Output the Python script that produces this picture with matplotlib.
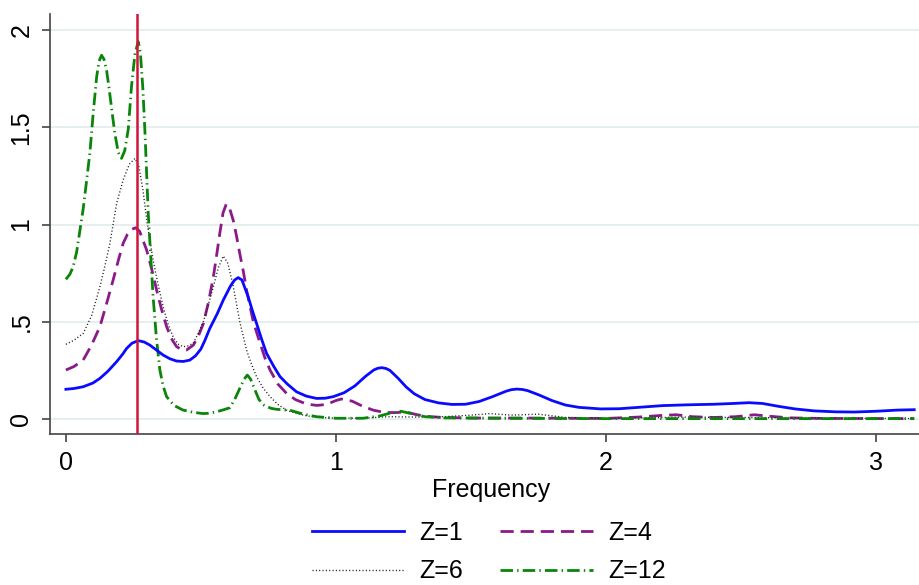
import matplotlib
matplotlib.use("Agg")
import matplotlib.pyplot as plt

# spectral density, one curve per Z
freq_z1 = [0, 0.03, 0.064, 0.1, 0.126, 0.155, 0.188, 0.21, 0.225, 0.245, 0.268, 0.29,
           0.311, 0.335, 0.36, 0.385, 0.41, 0.435, 0.459, 0.48, 0.5, 0.515, 0.533, 0.56,
           0.583, 0.61, 0.625, 0.638, 0.652, 0.675, 0.69, 0.706, 0.725, 0.743, 0.77,
           0.793, 0.82, 0.854, 0.89, 0.928, 0.96, 0.99, 1.03, 1.07, 1.11, 1.14, 1.155,
           1.17, 1.185, 1.2, 1.23, 1.26, 1.29, 1.33, 1.38, 1.43, 1.48, 1.53, 1.58, 1.63,
           1.65, 1.67, 1.69, 1.71, 1.75, 1.8, 1.85, 1.9, 1.98, 2.05, 2.12, 2.21, 2.3,
           2.4, 2.47, 2.53, 2.58, 2.64, 2.7, 2.77, 2.85, 2.92, 3.0, 3.08, 3.1416]
dens_z1 = [0.153, 0.157, 0.166, 0.185, 0.209, 0.245, 0.295, 0.333, 0.363, 0.39, 0.403,
           0.396, 0.38, 0.355, 0.329, 0.31, 0.298, 0.296, 0.303, 0.325, 0.36, 0.405,
           0.466, 0.54, 0.612, 0.685, 0.715, 0.727, 0.715, 0.629, 0.56, 0.492, 0.41,
           0.338, 0.27, 0.218, 0.18, 0.14, 0.118, 0.106, 0.107, 0.115, 0.135, 0.17,
           0.22, 0.252, 0.261, 0.264, 0.26, 0.25, 0.21, 0.165, 0.13, 0.1, 0.083, 0.075,
           0.076, 0.09, 0.115, 0.143, 0.151, 0.154, 0.152, 0.146, 0.125, 0.095, 0.072,
           0.06, 0.052, 0.053, 0.06, 0.069, 0.073, 0.076, 0.08, 0.084, 0.08, 0.065,
           0.052, 0.042, 0.037, 0.036, 0.04, 0.046, 0.048]

freq_z4 = [0, 0.03, 0.064, 0.095, 0.126, 0.15, 0.175, 0.195, 0.212, 0.228, 0.243, 0.258,
           0.273, 0.299, 0.318, 0.336, 0.355, 0.373, 0.39, 0.41, 0.43, 0.447, 0.472,
           0.49, 0.509, 0.528, 0.546, 0.558, 0.57, 0.582, 0.594, 0.607, 0.62, 0.632,
           0.644, 0.657, 0.669, 0.694, 0.719, 0.737, 0.756, 0.785, 0.817, 0.85, 0.891,
           0.93, 0.965, 1.0, 1.02, 1.06, 1.1, 1.14, 1.18, 1.22, 1.26, 1.3, 1.35, 1.4,
           1.5, 1.7, 2.0, 2.12, 2.2, 2.26, 2.32, 2.4, 2.48, 2.55, 2.6, 2.68, 2.8, 3.1416]
dens_z4 = [0.252, 0.27, 0.303, 0.38, 0.475, 0.59, 0.715, 0.82, 0.903, 0.95, 0.975,
           0.983, 0.965, 0.869, 0.77, 0.663, 0.56, 0.475, 0.415, 0.372, 0.356, 0.355,
           0.38, 0.425, 0.49, 0.6, 0.73, 0.84, 0.955, 1.06, 1.105, 1.08, 1.02, 0.94,
           0.85, 0.76, 0.663, 0.5, 0.39, 0.315, 0.252, 0.18, 0.132, 0.1, 0.077, 0.07,
           0.075, 0.095, 0.103, 0.092, 0.065, 0.045, 0.034, 0.033, 0.036, 0.022, 0.012,
           0.008, 0.005, 0.005, 0.003, 0.01, 0.018, 0.022, 0.012, 0.008, 0.012, 0.022,
           0.015, 0.006, 0.003, 0.002]

freq_z6 = [0, 0.03, 0.064, 0.095, 0.126, 0.145, 0.163, 0.188, 0.212, 0.235, 0.256,
           0.27, 0.285, 0.3, 0.311, 0.323, 0.34, 0.36, 0.378, 0.397, 0.415, 0.434, 0.45,
           0.472, 0.49, 0.509, 0.528, 0.546, 0.565, 0.583, 0.6, 0.62, 0.644, 0.669,
           0.685, 0.706, 0.73, 0.756, 0.785, 0.817, 0.85, 0.88, 0.92, 1.0, 1.1, 1.2,
           1.3, 1.4, 1.5, 1.57, 1.65, 1.75, 1.85, 2.0, 2.3, 2.5, 3.1416]
dens_z6 = [0.384, 0.405, 0.44, 0.53, 0.68, 0.79, 0.903, 1.109, 1.229, 1.31, 1.34, 1.3,
           1.18, 1.02, 0.92, 0.817, 0.7, 0.578, 0.49, 0.423, 0.385, 0.372, 0.375, 0.39,
           0.44, 0.5, 0.59, 0.68, 0.78, 0.838, 0.8, 0.68, 0.5, 0.355, 0.29, 0.218,
           0.16, 0.115, 0.075, 0.046, 0.03, 0.02, 0.01, 0.004, 0.005, 0.012, 0.01,
           0.012, 0.02, 0.028, 0.02, 0.025, 0.008, 0.003, 0.01, 0.008, 0.002]

freq_z12 = [0, 0.015, 0.027, 0.04, 0.052, 0.064, 0.074, 0.089, 0.101, 0.114, 0.123,
            0.132, 0.141, 0.151, 0.16, 0.169, 0.181, 0.194, 0.206, 0.218, 0.231, 0.243,
            0.256, 0.268, 0.276, 0.285, 0.293, 0.305, 0.314, 0.323, 0.335, 0.348, 0.36,
            0.373, 0.4, 0.434, 0.47, 0.508, 0.533, 0.56, 0.585, 0.607, 0.625, 0.644,
            0.66, 0.672, 0.684, 0.7, 0.715, 0.735, 0.76, 0.78, 0.83, 0.88, 0.928, 1.0,
            1.1, 1.16, 1.2, 1.24, 1.28, 1.33, 1.4, 1.6, 1.8, 2.0, 2.5, 3.1416]
dens_z12 = [0.718, 0.745, 0.783, 0.86, 0.97, 1.08, 1.194, 1.37, 1.57, 1.76, 1.84, 1.87,
            1.85, 1.79, 1.7, 1.6, 1.47, 1.37, 1.34, 1.38, 1.49, 1.71, 1.88, 1.94, 1.88,
            1.7, 1.47, 1.057, 0.84, 0.629, 0.42, 0.252, 0.17, 0.115, 0.07, 0.046,
            0.035, 0.028, 0.03, 0.038, 0.048, 0.058, 0.1, 0.158, 0.205, 0.226, 0.205,
            0.15, 0.1, 0.07, 0.055, 0.05, 0.045, 0.025, 0.012, 0.004, 0.004, 0.015,
            0.03, 0.04, 0.028, 0.012, 0.006, 0.004, 0.003, 0.002, 0.002, 0.002]

marker_freq = 0.2618
yticks = [0, 0.5, 1, 1.5, 2]
yticklabels = ["0", ".5", "1", "1.5", "2"]
xticks = [0, 1, 2, 3]

plt.rcParams["font.family"] = ["Liberation Sans", "DejaVu Sans"]
plt.rcParams["lines.scale_dashes"] = False

fig = plt.figure(figsize=(9.2, 5.85), dpi=100)
ax = fig.add_axes([0.0543, 0.2581, 0.9457, 0.7179])

l1, = ax.plot(freq_z1, dens_z1, color="#0a0aff", lw=2.0, label="Z=1", zorder=4)
l4, = ax.plot(freq_z4, dens_z4, color="#8a1a8a", lw=2.0, ls=(0, (9.5, 5)), label="Z=4", zorder=3)
l6, = ax.plot(freq_z6, dens_z6, color="#222222", lw=1.0, ls=(0, (0.8, 1.6)), label="Z=6", zorder=3)
l12, = ax.plot(freq_z12, dens_z12, color="#0a850a", lw=2.0, ls=(0, (9, 3, 1, 3)), label="Z=12", zorder=3)
ax.axvline(marker_freq, color="#d2143c", lw=1.8, zorder=5)

ax.set_xlim(-0.059, 3.163)
ax.set_ylim(-0.077, 2.082)
ax.set_yticks(yticks)
ax.set_yticklabels(yticklabels, rotation=90, va="center")
ax.set_xticks(xticks)
ax.grid(axis="y", color="#e6eef0", lw=1.4)
ax.set_axisbelow(True)

for s in ["top", "right"]:
    ax.spines[s].set_visible(False)
for s in ["left", "bottom"]:
    ax.spines[s].set_color("#444444")
    ax.spines[s].set_linewidth(1.2)
ax.tick_params(color="#444444", labelsize=18, length=6, width=1.2, pad=6)
ax.tick_params(labelcolor="black")
ax.set_xlabel("Frequency", fontsize=18)
ax.xaxis.set_label_coords(0.507, -0.105)

# legend is filled row by row in the reference
fig.legend([l1, l6, l4, l12], ["Z=1", "Z=6", "Z=4", "Z=12"],
           loc="center", bbox_to_anchor=(0.531, 0.056), ncol=2, frameon=False,
           fontsize=18, handlelength=3.7, handletextpad=0.6, columnspacing=1.5,
           labelspacing=0.58, borderpad=0.2)

fig.savefig("out.png", dpi=100)
